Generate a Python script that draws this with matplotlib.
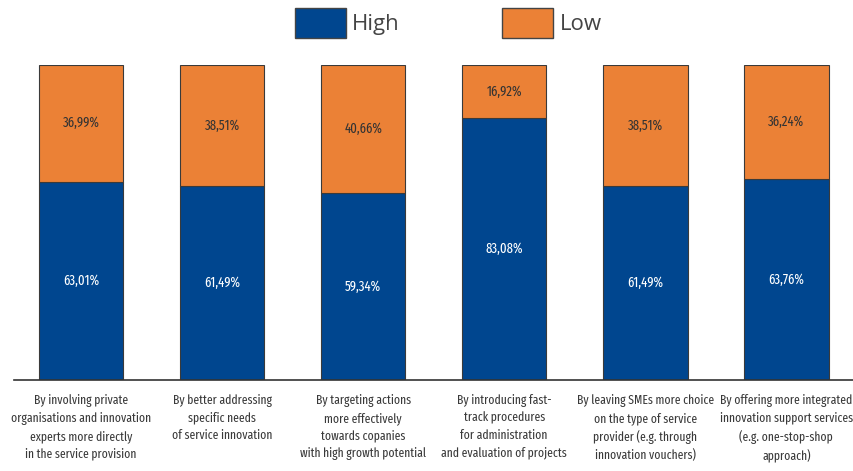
import matplotlib.pyplot as plt
from matplotlib.patches import Patch

categories = [
    "By involving private\norganisations and innovation\nexperts more directly\nin the service provision",
    "By better addressing\nspecific needs\nof service innovation",
    "By targeting actions\nmore effectively\ntowards copanies\nwith high growth potential",
    "By introducing fast-\ntrack procedures\nfor administration\nand evaluation of projects",
    "By leaving SMEs more choice\non the type of service\nprovider (e.g. through\ninnovation vouchers)",
    "By offering more integrated\ninnovation support services\n(e.g. one-stop-shop\napproach)",
]
high = [63.01, 61.49, 59.34, 83.08, 61.49, 63.76]
low = [36.99, 38.51, 40.66, 16.92, 38.51, 36.24]

blue = "#00468f"
orange = "#eb8136"
font = ["Fira Sans Extra Condensed", "DejaVu Sans"]

fig = plt.figure(figsize=(8.54, 4.71), dpi=100)
ax = fig.add_axes([14 / 854, 1 - 380 / 471, 1 - 14 / 854, 315 / 471])

x = range(len(categories))
ax.bar(x, high, width=0.6, color=blue, edgecolor="#3a3a3a", linewidth=0.8)
ax.bar(x, low, width=0.6, bottom=high, color=orange, edgecolor="#3a3a3a", linewidth=0.8)

# percentage labels in the middle of each segment
for i in x:
    ax.text(i, high[i] / 2, f"{high[i]:.2f}%".replace(".", ","), ha="center", va="center",
            color="white", fontsize=10, family=font)
    ax.text(i, high[i] + low[i] / 2, f"{low[i]:.2f}%".replace(".", ","), ha="center", va="center",
            color="#333333", fontsize=10, family=font)

ax.set_xlim(-0.475, 5.48)
ax.set_ylim(0, 100)
ax.set_yticks([])
ax.set_xticks(list(x))
ax.set_xticklabels(categories, fontsize=9.1, color="#3a3a3a", family=font, linespacing=1.5)
ax.tick_params(axis="x", length=0, pad=10)
for side in ["top", "right", "left"]:
    ax.spines[side].set_visible(False)
ax.spines["bottom"].set_color("#333333")
ax.spines["bottom"].set_linewidth(1.2)

handles = [Patch(facecolor=blue, edgecolor="#444444", label="High"),
           Patch(facecolor=orange, edgecolor="#444444", label="Low")]
leg = fig.legend(handles=handles, loc="upper center", bbox_to_anchor=(0.525, 1.025), ncol=2,
                 frameon=False, prop={"family": ["Open Sans", "DejaVu Sans"], "size": 16},
                 handlelength=2.3, handleheight=1.7, handletextpad=0.3, columnspacing=4.6)
for t in leg.get_texts():
    t.set_color("#444444")

fig.savefig("out.png", dpi=100)
